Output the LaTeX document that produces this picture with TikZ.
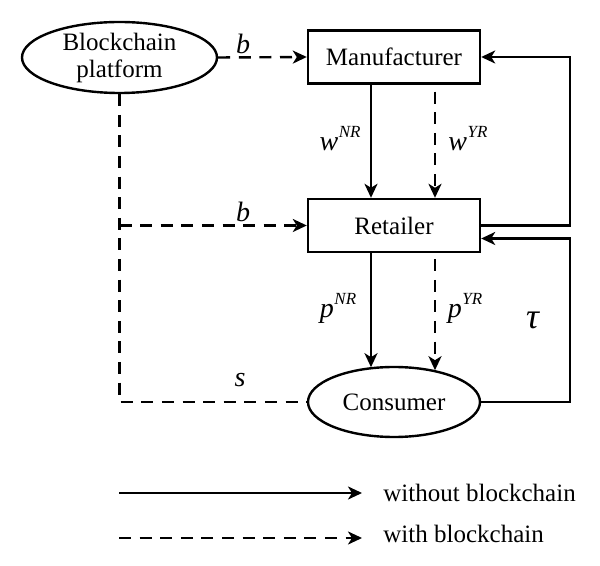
\documentclass[tikz,border=0pt]{standalone}
\usepackage{fontspec}
\setmainfont{Liberation Serif}
\usetikzlibrary{shapes.geometric,arrows.meta}
\newcommand{\supl}[2]{\textit{#1}\kern0.3pt\raisebox{1.0ex}{\fontsize{8.5}{8.5}\selectfont\textit{#2}}}
\begin{document}
\begin{tikzpicture}[x=0.5pt,y=-0.5pt,
  every node/.style={font=\fontsize{12.5}{13.5}\selectfont},
  boxnode/.style={draw,line width=1.2pt,rectangle,minimum width=86pt,minimum height=26.5pt,inner sep=0pt},
  ellnode/.style={draw,line width=1.2pt,ellipse,inner sep=0pt,align=center},
  link/.style={line width=1.2pt},
  arrowtip/.style={-{Stealth[length=7pt,width=6.5pt,inset=2pt]}},
  dashln/.style={dash pattern=on 6pt off 4.3pt},
  lbl/.style={inner sep=0pt,font=\fontsize{14}{14}\selectfont}
]
\useasboundingbox (0,0) rectangle (600,566);
% nodes
\node[ellnode,minimum width=97.5pt,minimum height=35.5pt] (bc) at (119.5,57.5) {Blockchain\\platform};
\node[boxnode] (man) at (394,57) {Manufacturer};
\node[boxnode] (ret) at (394,225.5) {Retailer};
\node[ellnode,minimum width=86pt,minimum height=35pt] (con) at (394,402) {Consumer};
\coordinate (loopx) at (570,0);
\coordinate (jn) at (bc.south |- ret.west);
% blockchain links
\draw[link,dashln,arrowtip] (bc.east) -- (man.west);
\draw[link,dashln,arrowtip] (jn) -- (ret.west);
\draw[link,dashln] (bc.south) |- (con.west);
% manufacturer -> retailer
\draw[link,arrowtip] ([xshift=-11.5pt]man.south) -- ([xshift=-11.5pt]ret.north);
\draw[link,dashln,arrowtip,shorten <=3.5pt] ([xshift=20.5pt]man.south) -- ([xshift=20.5pt]ret.north);
% retailer -> consumer
\draw[link,arrowtip] ([xshift=-11.5pt]ret.south) -- ([xshift=-11.5pt,yshift=-0.7pt]con.north);
\draw[link,dashln,arrowtip,shorten <=3pt] ([xshift=20.5pt]ret.south) -- ([xshift=20.5pt,yshift=-2.2pt]con.north);
% feedback loops
\draw[link,arrowtip] (ret.east) -- (ret.east -| loopx) |- (man.east);
\draw[link,arrowtip] (con.east) -- (con.east -| loopx) |- ([yshift=-6.5pt]ret.east);
% labels
\node[lbl] (lb1) at (243,44) {\textit{b}};
\node[lbl] (lb2) at (243,212) {\textit{b}};
\node[lbl] (lw1) at (340,139) {\supl{w}{NR}};
\node[lbl] (lw2) at (468,139) {\supl{w}{YR}};
\node[lbl] (lp1) at (338,308) {\supl{p}{NR}};
\node[lbl] (lp2) at (465,308) {\supl{p}{YR}};
\node[lbl,font=\fontsize{18}{18}\selectfont] (lt) at (533,320) {\textit{τ}};
\node[lbl] (ls) at (240,380) {\textit{s}};
% legend
\coordinate (la1) at (119,493);
\coordinate (la2) at (362,493);
\coordinate (lb1c) at (119,538);
\coordinate (lb2c) at (362,538);
\draw[link,arrowtip] (la1) -- (la2);
\draw[link,dashln,arrowtip] (lb1c) -- (lb2c);
\node[inner sep=0pt,anchor=base west] (lt1) at (383,502) {without blockchain};
\node[inner sep=0pt,anchor=base west] (lt2) at (383,543) {with blockchain};
\end{tikzpicture}
\end{document}
